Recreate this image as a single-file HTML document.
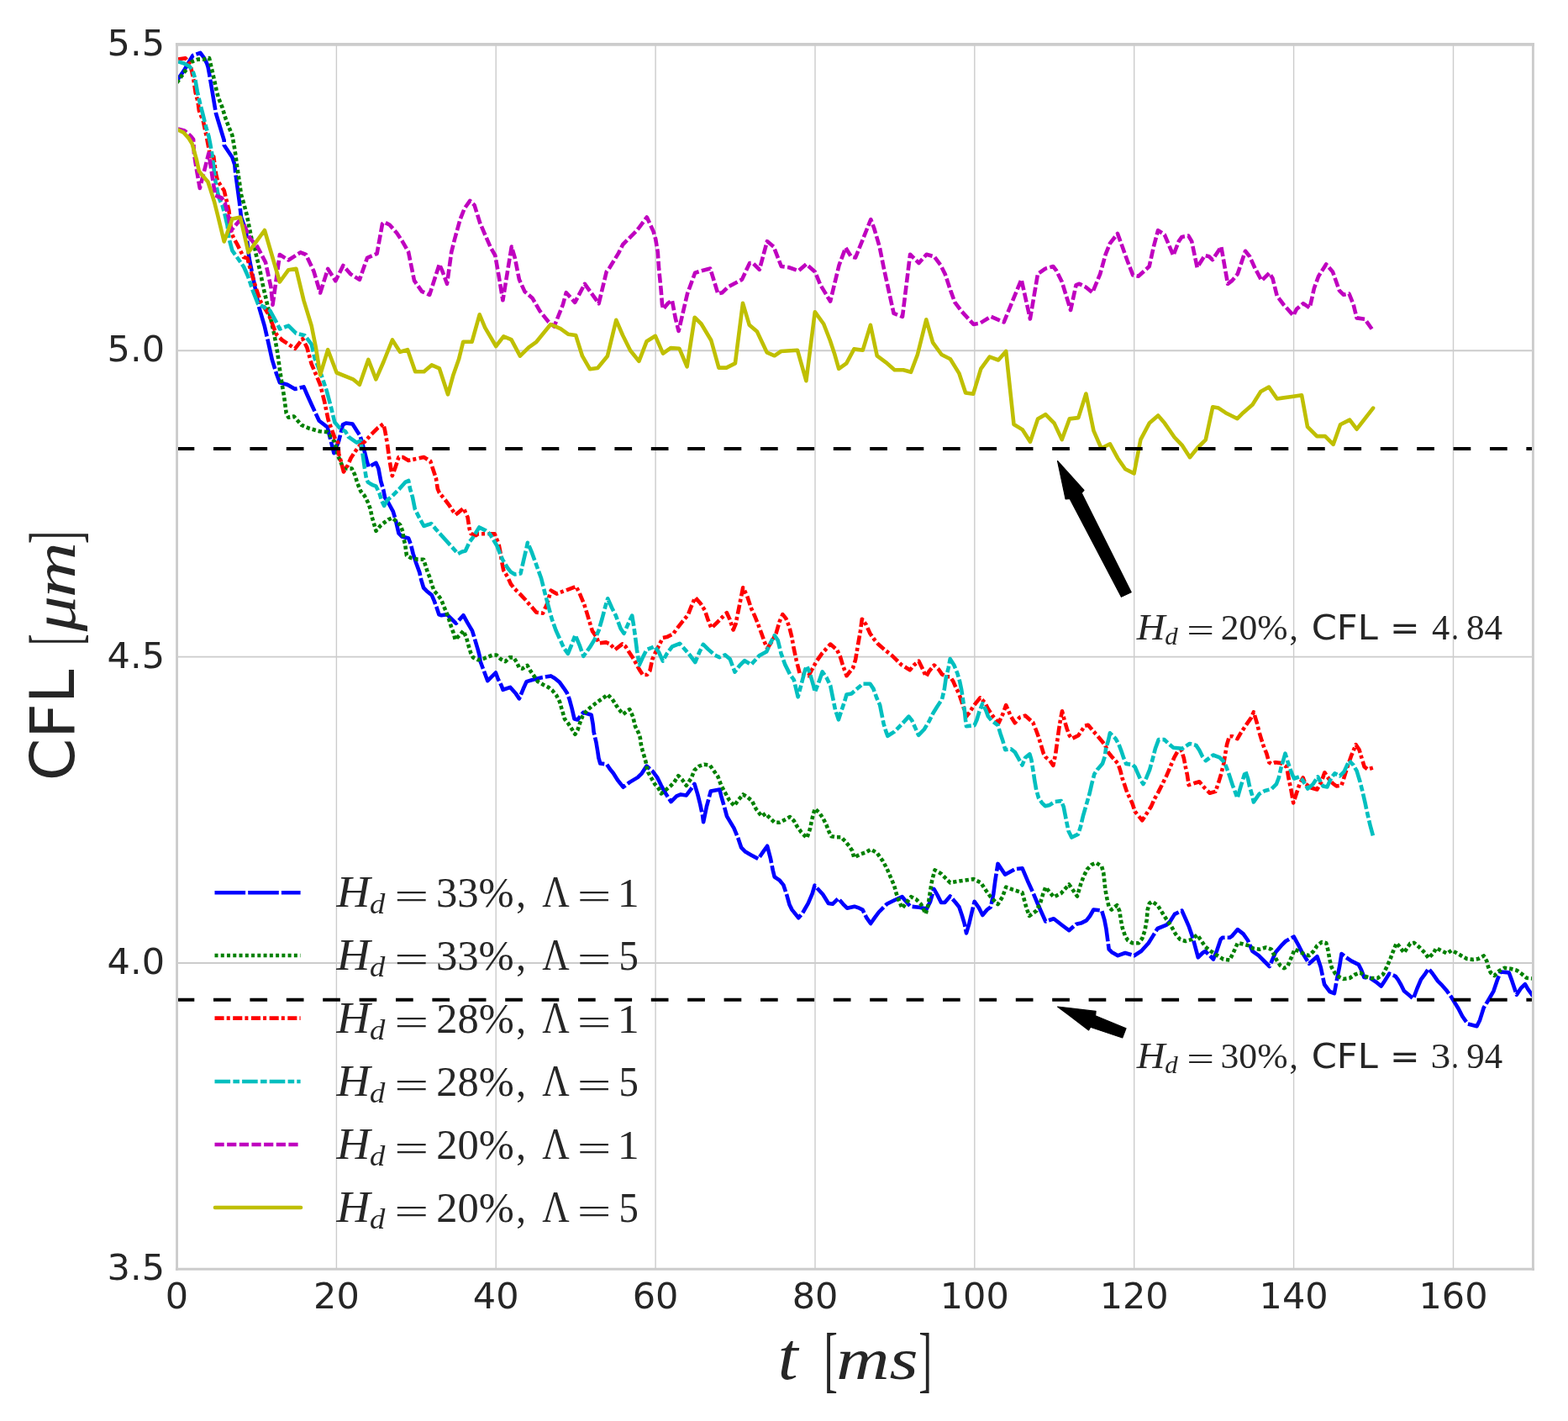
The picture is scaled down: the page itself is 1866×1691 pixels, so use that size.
<!DOCTYPE html>
<html><head><meta charset="utf-8"><title>CFL vs t</title>
<style>
html,body{margin:0;padding:0;background:#fff;}
svg{display:block;}
.tk{font-family:"DejaVu Sans","Liberation Sans",sans-serif;font-size:43px;fill:#262626;}
.mi{font-family:"Liberation Serif","DejaVu Serif",serif;font-style:italic;fill:#262626;}
.mr{font-family:"Liberation Serif","DejaVu Serif",serif;fill:#262626;}
.ds{font-family:"DejaVu Sans","Liberation Sans",sans-serif;fill:#262626;}
</style></head>
<body>
<svg width="1866" height="1691" viewBox="0 0 1866 1691">
<rect x="0" y="0" width="1866" height="1691" fill="#fff"/>
<!-- grid -->
<g stroke="#cccccc" fill="none">
<g stroke-width="1.4">
<line x1="400.4" y1="52.9" x2="400.4" y2="1510.3"/>
<line x1="590.2" y1="52.9" x2="590.2" y2="1510.3"/>
<line x1="780.1" y1="52.9" x2="780.1" y2="1510.3"/>
<line x1="970.0" y1="52.9" x2="970.0" y2="1510.3"/>
<line x1="1159.8" y1="52.9" x2="1159.8" y2="1510.3"/>
<line x1="1349.7" y1="52.9" x2="1349.7" y2="1510.3"/>
<line x1="1539.6" y1="52.9" x2="1539.6" y2="1510.3"/>
<line x1="1729.5" y1="52.9" x2="1729.5" y2="1510.3"/>
</g>
<g stroke-width="1.9">
<line x1="210.5" y1="417.25" x2="1824.4" y2="417.25"/>
<line x1="210.5" y1="781.6" x2="1824.4" y2="781.6"/>
<line x1="210.5" y1="1145.95" x2="1824.4" y2="1145.95"/>
</g>
</g>
<!-- CURVES -->
<defs><clipPath id="ax"><rect x="210.5" y="52.9" width="1613.9" height="1457.4"/></clipPath></defs>
<g fill="none" stroke-width="4.6" stroke-linejoin="round" clip-path="url(#ax)">
<path stroke="#0000ff" stroke-linecap="butt" stroke-dasharray="36.7 3.1" d="M210.5 96.1 L219.5 83.0 L229.5 66.0 L238.4 62.8 L242.6 68.5 L246.2 75.5 L247.6 79.8 L249.4 89.7 L257.0 135.0 L266.7 167.0 L266.7 172.8 L276.4 187.3 L279.3 195.9 L280.2 205.6 L285.0 241.3 L287.0 258.6 L292.8 275.0 L296.5 306.9 L301.7 332.9 L306.9 358.9 L308.2 365.4 L314.7 387.6 L318.6 404.5 L323.8 427.9 L329.0 444.8 L332.9 455.2 L342.0 457.8 L351.1 463.0 L361.5 460.4 L365.4 469.5 L370.7 481.2 L379.8 500.7 L389.6 508.3 L397.4 539.2 L403.2 524.7 L408.0 505.4 L411.8 503.5 L419.5 504.5 L424.4 512.2 L428.2 518.0 L430.2 523.8 L434.0 538.2 L436.9 549.8 L438.8 555.6 L447.5 550.8 L450.4 557.5 L453.3 573.0 L456.2 582.6 L458.1 592.2 L462.0 598.0 L467.8 608.6 L470.7 618.3 L474.5 634.7 L478.4 638.6 L486.1 640.5 L489.0 648.2 L491.6 658.9 L495.4 670.5 L499.3 681.1 L501.2 689.8 L504.1 699.5 L508.9 704.3 L513.8 708.1 L516.7 714.9 L519.5 722.6 L522.4 731.3 L525.3 732.2 L532.1 731.3 L537.9 737.1 L542.7 741.9 L551.4 732.2 L556.2 740.9 L562.0 750.6 L564.9 760.2 L568.7 772.8 L570.7 780.5 L571.6 787.0 L574.5 794.7 L580.3 810.2 L589.9 800.5 L592.8 808.2 L596.7 815.9 L598.6 820.8 L607.3 817.9 L614.0 825.6 L617.9 831.4 L622.7 819.8 L626.6 811.1 L636.2 808.2 L644.9 806.3 L655.5 804.4 L660.3 807.3 L666.1 812.1 L670.9 818.8 L674.8 824.6 L677.7 832.3 L680.6 843.0 L683.5 855.5 L687.3 856.5 L694.1 847.8 L703.7 850.7 L704.7 856.5 L705.7 862.2 L706.6 870.9 L709.5 883.5 L711.4 895.0 L712.4 901.8 L714.3 908.5 L722.1 909.5 L725.9 915.3 L729.8 920.0 L734.8 928.0 L741.6 936.7 L749.3 930.9 L758.9 925.1 L763.8 920.3 L769.5 911.6 L776.3 917.4 L782.1 925.1 L786.9 934.8 L791.7 943.5 L798.5 954.1 L805.2 947.3 L810.1 945.4 L816.8 946.4 L822.6 938.6 L826.5 932.9 L830.3 945.4 L833.2 957.0 L836.1 970.5 L837.1 978.2 L840.9 959.9 L845.8 941.5 L856.4 939.6 L858.3 947.3 L862.2 960.8 L865.0 971.4 L873.5 985.6 L878.3 997.2 L882.2 1008.7 L887.0 1013.6 L893.8 1017.4 L902.4 1022.2 L908.2 1013.6 L913.1 1006.8 L916.9 1021.3 L919.8 1035.7 L921.7 1043.5 L927.5 1047.3 L932.3 1053.1 L936.2 1064.7 L939.6 1076.8 L942.5 1082.6 L950.3 1092.2 L955.1 1086.5 L961.8 1074.9 L966.7 1063.3 L969.5 1053.7 L979.2 1064.3 L985.9 1074.9 L990.8 1075.8 L997.5 1069.1 L1003.3 1075.8 L1008.1 1080.7 L1016.8 1078.7 L1022.6 1080.7 L1026.5 1082.6 L1031.3 1092.2 L1036.1 1099.0 L1040.9 1092.2 L1045.8 1085.5 L1055.4 1075.8 L1065.0 1071.0 L1073.7 1067.2 L1077.6 1072.0 L1083.4 1078.7 L1094.0 1079.7 L1102.7 1081.6 L1107.1 1072.9 L1111.4 1057.9 L1115.7 1065.4 L1120.0 1074.0 L1124.3 1074.0 L1130.7 1066.5 L1137.2 1074.0 L1141.4 1079.3 L1144.7 1089.0 L1147.9 1099.7 L1150.0 1110.4 L1153.2 1099.7 L1156.5 1085.7 L1159.7 1072.9 L1165.0 1080.4 L1169.3 1089.0 L1174.7 1082.5 L1179.0 1079.3 L1182.2 1064.3 L1184.3 1048.2 L1187.5 1027.9 L1196.1 1040.7 L1207.9 1034.3 L1216.5 1033.2 L1222.9 1048.2 L1229.3 1062.2 L1234.7 1075.0 L1239.0 1084.7 L1244.3 1096.5 L1254.0 1093.2 L1263.6 1100.7 L1272.2 1107.2 L1280.8 1099.7 L1286.4 1098.6 L1292.9 1095.4 L1297.1 1090.0 L1301.4 1082.5 L1311.1 1083.6 L1314.3 1094.3 L1316.4 1105.0 L1319.7 1129.7 L1322.9 1132.9 L1330.4 1137.2 L1339.0 1134.0 L1349.7 1137.2 L1358.2 1131.8 L1366.8 1122.2 L1372.2 1113.6 L1377.5 1105.0 L1388.3 1100.7 L1392.5 1096.5 L1397.9 1087.9 L1406.5 1083.6 L1410.8 1093.2 L1415.0 1102.9 L1418.3 1112.5 L1421.5 1123.3 L1425.8 1139.3 L1431.1 1134.0 L1434.3 1131.8 L1444.0 1141.5 L1448.3 1130.8 L1452.6 1117.9 L1454.7 1115.8 L1463.3 1115.8 L1466.5 1113.6 L1472.9 1106.1 L1479.6 1111.4 L1485.0 1119.0 L1490.4 1131.8 L1497.9 1137.2 L1503.2 1142.5 L1510.7 1150.0 L1518.2 1132.9 L1525.7 1124.3 L1530.0 1120.0 L1539.7 1114.7 L1545.0 1124.3 L1549.3 1132.9 L1557.9 1146.8 L1567.5 1138.2 L1569.7 1144.7 L1571.8 1151.1 L1576.1 1171.5 L1582.5 1180.0 L1587.9 1182.2 L1591.1 1165.0 L1594.3 1149.0 L1596.5 1135.0 L1601.8 1139.3 L1608.3 1143.6 L1616.8 1147.9 L1620.1 1154.3 L1623.3 1162.9 L1630.8 1164.0 L1637.2 1168.3 L1643.6 1173.6 L1647.9 1167.2 L1653.3 1158.6 L1660.8 1161.8 L1663.6 1165.6 L1667.3 1172.0 L1670.9 1179.3 L1676.4 1183.8 L1681.9 1188.4 L1686.4 1176.5 L1691.0 1165.6 L1696.4 1158.3 L1700.1 1152.8 L1704.6 1158.3 L1711.0 1167.4 L1716.5 1172.9 L1722.0 1179.3 L1726.5 1185.6 L1731.1 1192.9 L1735.6 1200.2 L1740.2 1209.3 L1746.6 1218.4 L1757.5 1221.2 L1761.1 1213.9 L1765.7 1199.3 L1771.2 1190.2 L1777.5 1179.3 L1782.1 1165.6 L1785.7 1156.5 L1795.7 1157.4 L1799.4 1167.4 L1804.9 1183.8 L1810.3 1175.6 L1814.9 1171.1 L1818.5 1177.4 L1824.4 1185.5"/>
<path stroke="#008000" stroke-linecap="butt" stroke-dasharray="4.3 3.0" d="M210.5 98.3 L228.4 73.4 L235.5 70.6 L242.6 70.6 L249.0 69.0 L251.1 78.4 L253.3 87.6 L254.7 94.0 L257.5 106.8 L259.6 115.3 L261.8 121.0 L264.6 128.1 L266.7 135.2 L268.9 142.3 L272.5 151.6 L276.4 161.2 L278.3 171.8 L280.2 183.4 L282.1 197.9 L285.0 217.1 L287.0 231.6 L289.9 241.3 L293.7 255.7 L296.6 270.2 L299.5 284.6 L301.8 287.9 L305.0 304.0 L309.5 322.5 L313.4 342.0 L322.5 381.1 L326.4 398.0 L330.3 420.1 L332.9 439.6 L335.5 456.5 L338.1 472.1 L340.7 491.6 L343.3 496.8 L349.8 495.5 L358.9 505.9 L368.0 509.8 L380.0 513.2 L389.6 514.1 L398.3 525.7 L402.2 542.1 L407.0 553.7 L411.8 557.5 L418.6 557.5 L422.4 565.2 L425.3 574.9 L429.2 584.5 L434.0 590.3 L437.9 598.0 L440.8 605.8 L442.7 615.4 L445.6 625.0 L447.5 631.8 L453.3 625.0 L462.0 618.3 L466.8 616.4 L471.6 620.2 L476.5 625.0 L479.4 632.8 L480.3 640.5 L482.2 648.2 L483.9 660.9 L488.7 663.8 L497.4 665.7 L504.1 665.7 L508.9 681.1 L511.8 687.9 L513.8 695.6 L516.7 703.3 L520.5 707.2 L525.3 713.9 L528.2 721.6 L531.1 728.4 L534.0 736.1 L536.9 745.7 L539.8 753.5 L541.7 761.2 L547.5 755.4 L551.4 750.6 L555.2 759.3 L557.2 767.0 L560.1 776.6 L563.0 782.4 L568.7 785.3 L576.5 783.4 L586.1 779.5 L590.9 779.5 L595.8 784.3 L601.5 787.2 L606.4 782.4 L611.2 782.4 L615.0 788.2 L617.9 794.7 L621.7 795.7 L627.5 791.8 L631.4 798.6 L636.2 805.3 L640.1 811.1 L646.8 815.0 L652.6 817.9 L657.4 821.7 L662.2 827.5 L666.1 835.2 L668.0 842.0 L670.0 848.7 L671.9 855.5 L675.8 860.3 L679.6 866.1 L684.4 873.8 L687.3 869.0 L690.2 860.3 L693.1 852.6 L698.9 844.9 L704.7 840.1 L712.4 834.3 L718.2 830.4 L723.0 826.6 L728.8 832.3 L735.8 843.2 L741.6 849.9 L749.3 844.1 L753.2 852.8 L756.0 864.4 L759.9 872.1 L761.8 877.9 L762.8 885.6 L764.7 893.3 L766.7 900.1 L768.6 906.8 L769.5 912.6 L771.5 919.4 L775.3 926.1 L779.2 932.9 L784.0 938.6 L786.9 944.4 L791.7 940.6 L797.5 935.8 L802.3 930.9 L807.2 923.2 L812.0 928.0 L816.8 934.8 L822.6 926.1 L826.5 916.5 L832.2 911.6 L838.0 909.7 L844.8 910.7 L849.6 917.4 L854.4 924.2 L858.3 934.8 L863.1 943.5 L867.9 952.2 L873.7 958.9 L878.5 952.2 L884.3 945.4 L889.2 948.3 L894.9 953.1 L899.8 962.8 L906.5 971.4 L911.1 968.2 L915.9 973.1 L921.7 978.8 L927.5 978.8 L933.3 975.9 L940.1 972.1 L944.9 976.9 L948.7 983.7 L953.6 990.4 L960.3 997.2 L964.2 985.6 L966.1 975.9 L968.0 968.2 L970.0 962.4 L975.8 968.2 L979.6 974.0 L983.5 981.7 L986.4 989.5 L989.3 995.2 L995.0 996.2 L1000.8 996.2 L1005.7 1001.0 L1010.5 1006.8 L1014.3 1012.6 L1016.3 1020.3 L1024.0 1016.5 L1029.8 1014.5 L1036.5 1010.7 L1043.8 1015.1 L1050.6 1024.7 L1055.4 1033.4 L1058.3 1040.2 L1061.2 1046.9 L1064.1 1053.7 L1067.0 1064.3 L1069.9 1072.0 L1073.7 1080.7 L1080.5 1072.0 L1084.3 1067.2 L1090.1 1070.1 L1095.9 1075.8 L1101.7 1087.4 L1104.6 1076.8 L1107.5 1057.5 L1109.3 1047.2 L1112.5 1035.4 L1120.0 1039.7 L1130.7 1050.4 L1143.6 1048.2 L1158.6 1046.1 L1167.2 1050.4 L1173.6 1060.0 L1179.0 1067.5 L1187.5 1076.1 L1192.9 1067.5 L1197.2 1055.7 L1205.8 1058.9 L1216.5 1062.2 L1218.6 1069.7 L1221.8 1081.5 L1225.0 1090.0 L1233.6 1083.6 L1237.9 1075.0 L1241.1 1064.3 L1244.3 1055.7 L1254.0 1067.5 L1262.6 1063.2 L1272.2 1052.5 L1281.9 1066.5 L1286.4 1051.4 L1289.6 1042.9 L1293.9 1034.3 L1299.3 1028.9 L1304.7 1026.8 L1311.1 1031.1 L1313.2 1038.6 L1314.3 1048.2 L1315.4 1058.9 L1317.5 1069.7 L1319.7 1079.3 L1322.9 1082.5 L1329.3 1077.2 L1332.5 1084.7 L1333.6 1093.2 L1335.7 1104.0 L1338.9 1113.6 L1342.2 1119.0 L1347.5 1122.2 L1355.0 1122.2 L1359.3 1116.8 L1362.5 1107.2 L1364.7 1094.3 L1365.7 1082.5 L1367.9 1075.0 L1371.1 1072.9 L1377.5 1077.2 L1382.9 1085.7 L1388.3 1094.3 L1393.6 1101.8 L1399.0 1111.5 L1404.3 1117.9 L1410.8 1120.0 L1418.3 1117.9 L1424.7 1112.5 L1430.0 1120.0 L1434.3 1126.5 L1440.8 1131.8 L1447.2 1136.1 L1455.8 1141.5 L1463.3 1142.5 L1467.6 1134.0 L1472.9 1122.2 L1478.6 1123.2 L1486.1 1125.4 L1491.4 1128.6 L1498.9 1129.7 L1506.4 1127.5 L1512.9 1129.7 L1516.1 1136.1 L1519.3 1142.5 L1523.6 1149.0 L1527.9 1152.2 L1532.2 1150.0 L1535.4 1142.5 L1538.6 1135.0 L1540.7 1129.7 L1545.0 1131.8 L1551.5 1135.0 L1557.9 1137.2 L1563.2 1131.8 L1567.5 1125.4 L1572.9 1121.1 L1578.2 1122.2 L1580.4 1130.7 L1582.5 1142.5 L1584.7 1151.1 L1589.0 1158.6 L1594.3 1162.9 L1598.6 1165.0 L1606.1 1164.0 L1612.5 1159.7 L1619.0 1157.5 L1624.3 1161.8 L1631.8 1164.0 L1639.3 1164.0 L1645.8 1159.7 L1650.1 1151.1 L1654.4 1141.5 L1657.6 1132.9 L1661.9 1122.2 L1665.5 1126.4 L1670.9 1133.7 L1678.2 1122.8 L1682.8 1121.9 L1689.2 1127.3 L1695.5 1133.7 L1700.1 1140.1 L1705.6 1134.6 L1709.2 1128.2 L1716.5 1131.9 L1722.0 1134.6 L1727.4 1131.0 L1732.9 1133.7 L1739.3 1137.4 L1745.6 1141.0 L1752.9 1141.9 L1759.3 1141.0 L1765.7 1137.4 L1769.3 1143.7 L1771.2 1151.0 L1773.9 1157.4 L1778.4 1161.0 L1783.9 1155.6 L1790.3 1151.9 L1797.6 1152.8 L1804.9 1154.7 L1811.2 1159.2 L1816.7 1163.8 L1824.4 1164.5"/>
<path stroke="#ff0000" stroke-linecap="butt" stroke-dasharray="11.1 3.1 4.0 3.5" d="M212.1 70.6 L220.6 69.2 L226.3 77.0 L228.4 85.5 L230.5 95.4 L232.7 110.3 L235.5 121.0 L236.9 131.6 L241.9 144.4 L243.6 152.5 L245.5 161.2 L250.3 186.3 L254.2 186.3 L257.1 207.5 L259.0 215.2 L262.9 221.0 L266.7 226.8 L268.6 234.5 L272.5 250.9 L275.4 276.9 L278.3 283.7 L282.1 290.4 L290.0 306.1 L294.3 307.2 L300.4 329.0 L305.6 345.9 L310.8 360.2 L319.9 374.6 L329.0 398.0 L335.5 404.5 L351.1 414.9 L360.2 403.2 L365.4 413.6 L370.7 433.1 L381.1 457.8 L386.3 478.6 L390.6 499.6 L398.3 520.9 L402.2 526.7 L403.2 540.2 L406.0 549.8 L408.9 561.4 L413.8 553.7 L417.6 545.0 L423.4 536.3 L429.2 528.6 L434.0 525.7 L441.7 517.0 L449.5 509.3 L456.2 504.5 L458.1 512.2 L461.0 528.6 L463.0 544.0 L464.9 555.6 L466.8 566.2 L470.7 555.6 L474.5 544.0 L479.4 544.0 L486.1 547.9 L495.8 546.0 L504.4 544.0 L512.2 548.8 L515.0 557.5 L518.9 569.1 L520.8 581.6 L522.8 586.5 L528.5 593.2 L534.3 600.9 L542.1 612.5 L545.9 609.6 L551.7 604.8 L556.5 615.4 L558.7 629.5 L560.6 635.2 L566.4 637.2 L569.3 635.2 L575.1 635.2 L581.8 635.2 L588.6 635.2 L590.5 640.1 L593.4 646.8 L595.3 656.5 L597.3 669.0 L599.2 678.6 L604.0 686.4 L607.9 695.0 L611.7 699.9 L619.5 707.6 L625.8 714.3 L638.3 728.7 L646.0 729.7 L650.9 719.1 L655.7 702.7 L662.4 706.6 L670.2 703.7 L685.6 697.9 L689.5 705.6 L695.2 719.1 L699.1 731.6 L702.0 741.3 L704.9 750.9 L709.7 757.7 L712.6 765.4 L721.3 764.4 L726.1 766.4 L731.9 773.1 L740.6 766.4 L744.4 769.3 L749.3 777.0 L755.0 785.7 L758.9 793.4 L761.8 798.2 L765.0 803.0 L770.0 803.0 L773.4 798.2 L776.3 784.7 L780.0 776.5 L783.9 768.7 L788.7 759.1 L793.5 758.1 L801.2 754.3 L806.0 747.5 L812.8 738.8 L818.6 732.1 L822.4 722.4 L827.3 710.9 L834.0 718.6 L838.8 726.3 L842.7 737.9 L846.6 747.5 L853.3 740.8 L860.1 734.0 L864.9 729.2 L868.4 736.9 L872.6 749.5 L875.5 742.7 L878.4 728.2 L881.3 713.8 L884.2 699.3 L889.0 708.9 L893.8 723.4 L898.6 734.0 L902.5 743.7 L906.4 754.3 L910.2 764.9 L913.1 771.6 L918.9 763.0 L923.7 753.3 L927.6 739.8 L931.4 731.1 L935.3 735.9 L939.2 745.6 L942.1 757.2 L944.9 772.6 L947.8 786.1 L951.7 801.5 L962.2 804.2 L967.0 795.5 L971.8 786.8 L978.6 777.2 L988.2 766.6 L996.0 773.3 L999.8 781.0 L1002.7 790.7 L1007.5 804.2 L1015.2 794.5 L1018.1 784.9 L1021.0 767.5 L1023.9 751.1 L1025.8 736.7 L1030.7 743.4 L1035.5 754.0 L1040.3 760.8 L1045.1 766.6 L1052.9 773.3 L1061.5 780.1 L1066.4 784.9 L1072.2 790.7 L1082.8 797.4 L1087.6 791.6 L1093.4 786.8 L1097.2 794.5 L1102.1 805.1 L1105.9 798.4 L1111.7 791.6 L1117.2 796.7 L1121.0 802.4 L1126.8 805.3 L1130.7 805.3 L1134.5 811.1 L1137.4 817.9 L1141.3 825.6 L1144.2 834.3 L1147.1 843.0 L1150.0 852.6 L1153.8 847.8 L1158.6 840.1 L1166.4 830.4 L1172.2 836.2 L1176.0 843.9 L1181.8 852.6 L1188.5 860.3 L1193.4 849.7 L1197.2 839.1 L1203.0 852.6 L1207.8 860.3 L1213.6 853.6 L1220.0 851.6 L1229.3 859.8 L1233.2 869.5 L1236.0 877.2 L1238.9 886.8 L1241.8 896.5 L1244.7 901.3 L1249.5 905.1 L1253.4 910.9 L1256.3 896.5 L1258.2 882.0 L1260.2 867.5 L1262.1 855.9 L1264.0 846.3 L1266.9 857.9 L1269.8 867.5 L1272.7 875.2 L1275.6 879.1 L1283.3 875.2 L1287.2 869.5 L1291.0 863.7 L1294.9 862.7 L1299.7 868.5 L1306.5 876.2 L1312.2 883.0 L1315.1 886.8 L1319.0 895.5 L1322.9 900.3 L1326.7 904.2 L1330.6 909.0 L1333.5 917.7 L1335.4 925.4 L1338.3 934.1 L1341.2 942.8 L1345.0 950.5 L1347.9 957.2 L1350.6 965.6 L1354.4 970.4 L1359.3 976.2 L1365.0 967.5 L1369.9 959.8 L1373.7 951.1 L1378.6 942.4 L1383.4 932.8 L1388.2 923.2 L1392.5 913.0 L1397.4 901.4 L1401.2 894.6 L1406.0 892.7 L1408.9 902.3 L1410.9 913.0 L1412.8 921.6 L1414.7 934.2 L1420.5 932.2 L1427.3 930.3 L1433.1 937.1 L1439.8 943.8 L1446.6 941.9 L1450.4 930.3 L1453.3 920.7 L1456.2 909.1 L1458.1 897.5 L1460.1 885.9 L1463.0 876.3 L1466.8 876.3 L1472.6 879.2 L1476.5 872.4 L1480.3 866.7 L1484.2 860.9 L1489.0 854.1 L1491.9 847.4 L1495.7 859.9 L1498.6 871.5 L1501.5 881.1 L1504.4 889.8 L1507.3 896.6 L1510.2 907.2 L1513.1 909.1 L1517.9 907.2 L1524.7 908.1 L1531.4 913.0 L1533.4 925.5 L1536.3 939.0 L1539.2 955.4 L1543.0 943.8 L1546.9 932.2 L1550.7 925.5 L1553.3 932.5 L1560.3 937.5 L1567.3 939.5 L1572.4 930.5 L1576.4 919.4 L1582.4 928.4 L1586.4 932.5 L1590.5 935.5 L1596.5 934.5 L1599.5 925.4 L1603.5 912.4 L1608.5 898.3 L1613.6 886.2 L1617.6 892.3 L1620.6 902.3 L1623.6 912.4 L1627.6 915.4 L1634.2 913.5"/>
<path stroke="#00bfbf" stroke-linecap="butt" stroke-dasharray="18.6 3.3 7.6 3.1" d="M212.1 73.4 L219.2 75.5 L225.6 79.1 L229.1 83.4 L232.0 92.6 L234.8 108.9 L236.9 118.1 L238.4 124.5 L241.2 135.2 L245.5 152.5 L248.4 162.2 L250.3 171.8 L252.3 183.4 L254.2 197.9 L256.1 214.3 L259.0 228.7 L260.9 236.4 L264.8 245.1 L267.7 255.7 L270.6 268.3 L272.5 283.7 L276.4 298.2 L290.0 317.3 L295.2 329.0 L300.4 344.6 L306.9 361.5 L321.2 369.4 L329.0 383.7 L332.9 391.5 L343.3 387.6 L352.4 396.7 L362.8 399.3 L370.7 409.7 L374.6 426.6 L382.4 446.1 L388.9 465.6 L394.1 485.1 L398.3 502.5 L405.1 510.3 L410.9 513.2 L414.7 519.9 L424.4 526.7 L429.2 524.7 L430.2 530.5 L432.1 544.0 L434.0 557.5 L435.9 569.1 L437.9 573.9 L442.7 576.8 L447.5 578.7 L451.4 586.5 L454.3 596.1 L457.2 601.9 L461.0 595.1 L466.8 590.3 L475.5 581.6 L482.2 573.9 L486.1 572.0 L488.0 581.6 L490.9 591.3 L493.8 605.8 L498.6 615.4 L504.4 626.0 L513.1 623.1 L518.9 629.9 L525.7 637.6 L536.3 649.2 L545.0 659.0 L550.0 656.5 L553.9 655.5 L558.7 644.9 L562.5 640.1 L570.3 627.5 L578.0 631.4 L582.8 635.2 L587.6 643.0 L591.5 649.7 L595.3 659.4 L598.2 666.1 L604.0 675.8 L607.9 680.6 L612.7 683.5 L619.5 682.5 L623.3 666.1 L626.2 653.6 L627.9 645.8 L632.5 656.4 L644.1 688.2 L648.9 707.5 L652.8 722.0 L656.7 736.5 L661.5 750.0 L666.3 760.6 L671.1 771.2 L675.9 777.9 L679.8 768.3 L684.6 755.8 L689.5 767.3 L694.3 780.8 L702.0 770.2 L707.8 760.6 L712.6 750.0 L716.5 736.5 L720.3 722.0 L723.2 712.3 L728.0 723.0 L732.9 732.6 L738.6 748.0 L742.5 753.8 L750.2 736.5 L752.2 732.6 L754.1 744.2 L756.0 757.7 L757.9 773.1 L760.8 791.4 L764.7 782.8 L769.5 773.1 L779.2 769.3 L784.0 776.0 L788.8 786.6 L793.6 777.9 L800.0 769.3 L808.9 765.8 L815.7 773.6 L821.5 780.3 L827.3 788.0 L832.1 776.5 L836.9 766.8 L842.7 772.6 L850.4 779.4 L856.2 782.2 L863.0 779.4 L868.7 784.2 L874.5 799.6 L880.3 791.9 L886.1 786.1 L893.8 790.9 L903.5 780.3 L912.2 775.5 L917.0 764.9 L921.8 756.2 L925.7 762.0 L929.5 777.4 L934.3 790.9 L940.1 802.5 L944.8 809.0 L949.6 829.3 L954.5 810.9 L958.3 796.5 L960.3 792.6 L964.1 802.2 L968.0 815.8 L969.9 823.5 L974.7 810.9 L978.6 799.4 L983.4 806.1 L988.2 815.8 L991.1 830.2 L994.0 844.7 L997.9 856.3 L1001.7 844.7 L1005.6 833.1 L1007.5 826.4 L1013.3 825.4 L1020.1 819.6 L1026.8 813.8 L1035.5 813.8 L1039.4 819.6 L1043.2 830.2 L1047.1 838.9 L1051.6 861.3 L1054.5 870.9 L1056.4 875.8 L1064.1 870.9 L1072.8 862.2 L1081.5 852.6 L1085.3 857.4 L1089.2 866.1 L1093.1 874.8 L1099.8 868.0 L1105.6 858.4 L1110.4 848.7 L1115.2 841.0 L1121.0 832.3 L1123.9 819.8 L1125.8 806.3 L1128.7 794.7 L1130.7 784.1 L1135.5 791.8 L1139.4 801.5 L1142.2 811.1 L1144.2 820.8 L1146.1 833.3 L1148.0 846.8 L1149.0 856.5 L1150.0 864.2 L1159.6 863.2 L1162.5 856.5 L1165.4 846.8 L1169.3 837.2 L1173.1 844.9 L1176.0 852.6 L1179.9 857.4 L1187.6 863.2 L1190.5 872.9 L1193.4 881.5 L1196.3 892.2 L1203.0 891.2 L1207.8 895.0 L1211.7 901.8 L1216.5 910.5 L1220.0 901.8 L1225.4 897.4 L1227.4 904.2 L1229.3 915.8 L1231.2 928.3 L1233.2 939.9 L1236.0 949.5 L1239.9 955.3 L1243.8 959.2 L1249.3 957.9 L1255.1 954.0 L1262.8 953.1 L1265.7 959.8 L1267.6 969.5 L1269.5 979.1 L1271.5 988.7 L1275.3 996.5 L1283.1 992.6 L1285.9 983.9 L1288.8 971.4 L1292.7 957.9 L1296.6 944.4 L1299.5 931.8 L1302.3 921.2 L1306.2 915.4 L1312.0 908.7 L1314.9 900.0 L1316.1 890.7 L1319.0 881.0 L1320.9 872.3 L1327.7 879.1 L1331.5 885.9 L1334.4 893.6 L1337.3 902.2 L1340.2 909.0 L1347.9 910.0 L1350.8 912.9 L1353.7 919.6 L1357.6 928.3 L1360.5 933.1 L1364.3 925.4 L1368.2 915.8 L1372.0 902.2 L1374.9 890.7 L1378.8 880.1 L1385.6 880.1 L1389.6 884.0 L1396.4 889.8 L1407.0 890.8 L1415.7 885.0 L1423.4 886.9 L1427.3 892.7 L1431.1 900.4 L1435.0 905.2 L1438.8 902.3 L1443.7 898.5 L1451.4 901.4 L1456.2 906.2 L1459.1 912.0 L1463.0 922.6 L1466.8 934.2 L1472.6 949.6 L1476.5 936.1 L1480.3 923.6 L1482.2 917.8 L1485.1 926.5 L1487.1 936.1 L1490.0 945.8 L1491.9 954.4 L1498.6 944.8 L1505.4 940.9 L1513.1 939.0 L1518.9 933.2 L1521.8 925.5 L1524.7 913.0 L1527.6 903.3 L1529.5 896.6 L1532.4 906.2 L1535.3 914.9 L1538.2 922.6 L1540.1 926.5 L1545.9 924.5 L1550.3 928.4 L1556.3 938.5 L1562.3 933.5 L1568.3 924.4 L1574.4 935.5 L1579.4 936.5 L1584.4 925.4 L1588.4 920.4 L1594.5 923.4 L1599.5 918.4 L1605.5 905.3 L1610.6 910.4 L1614.6 917.4 L1618.6 930.5 L1621.6 942.5 L1624.6 955.6 L1627.6 969.6 L1630.7 982.7 L1634.5 996.5"/>
<path stroke="#bf00bf" stroke-linecap="butt" stroke-dasharray="11.2 3.4" d="M211.8 153.5 L219.5 155.4 L227.2 162.2 L230.1 166.0 L231.0 183.4 L233.9 201.7 L237.8 223.9 L248.4 182.4 L256.1 232.6 L263.8 235.5 L267.7 241.3 L272.5 260.5 L274.4 275.0 L285.0 262.5 L290.0 266.5 L297.5 283.6 L306.1 293.3 L316.0 312.1 L322.5 342.0 L324.5 362.8 L332.9 303.0 L343.3 309.5 L357.6 300.4 L364.1 303.0 L373.3 322.5 L381.1 348.5 L390.2 319.9 L399.3 334.2 L408.4 316.0 L417.5 326.4 L427.9 332.9 L437.0 306.9 L448.6 301.8 L455.0 266.5 L457.2 264.3 L463.6 267.5 L472.2 277.2 L478.6 286.8 L486.1 300.0 L493.0 333.9 L502.1 346.9 L511.2 350.8 L522.9 314.4 L526.8 323.5 L532.0 337.8 L537.2 300.1 L541.1 284.5 L547.6 261.1 L552.8 248.0 L559.3 238.9 L564.6 244.1 L571.1 265.0 L578.9 283.2 L584.1 294.9 L589.3 304.0 L593.2 326.1 L598.4 357.3 L608.8 293.6 L612.7 306.6 L617.9 332.6 L624.4 346.9 L633.5 354.7 L642.6 370.3 L653.0 383.3 L659.5 388.5 L669.9 362.5 L673.8 348.2 L684.2 359.9 L695.9 337.8 L712.6 361.2 L721.7 323.5 L725.6 318.3 L736.0 301.4 L741.2 291.0 L747.7 284.5 L758.1 274.1 L769.8 258.5 L777.6 275.4 L780.2 284.5 L782.8 300.1 L784.1 319.6 L786.7 345.6 L788.0 362.5 L789.3 367.7 L794.6 361.2 L799.8 357.3 L803.7 378.1 L807.6 394.0 L818.0 349.5 L827.1 324.8 L834.9 322.2 L845.3 319.6 L854.4 349.5 L859.6 348.2 L866.1 341.7 L883.0 332.6 L892.1 313.1 L896.0 313.1 L903.8 320.9 L912.9 287.1 L920.7 293.6 L929.8 317.0 L938.9 318.3 L950.4 322.2 L959.5 314.4 L969.9 323.5 L976.4 339.1 L988.1 358.6 L998.5 315.7 L1006.3 294.9 L1012.8 305.3 L1018.0 306.6 L1025.9 287.1 L1036.3 261.1 L1040.2 271.5 L1046.7 293.6 L1051.9 319.6 L1058.4 349.5 L1063.6 372.9 L1074.0 376.8 L1081.8 313.1 L1083.1 302.7 L1093.5 313.1 L1102.6 302.7 L1111.7 305.3 L1119.5 315.7 L1124.7 326.1 L1131.2 345.6 L1136.4 359.9 L1144.2 370.3 L1158.5 385.9 L1166.3 384.6 L1179.1 376.8 L1194.7 383.3 L1206.4 354.7 L1215.5 332.6 L1225.9 379.4 L1235.0 326.1 L1244.1 319.6 L1253.3 317.0 L1257.2 322.2 L1263.7 335.2 L1268.9 352.1 L1274.1 369.0 L1280.6 339.1 L1284.5 337.8 L1292.3 341.7 L1300.1 348.2 L1309.2 326.1 L1315.7 302.7 L1320.9 289.7 L1330.0 278.0 L1335.2 292.3 L1341.7 310.5 L1348.2 327.4 L1354.7 328.7 L1367.7 317.0 L1372.9 293.6 L1378.1 274.1 L1385.9 279.3 L1396.3 304.0 L1402.8 287.1 L1406.5 281.9 L1414.3 280.6 L1418.2 287.1 L1424.7 318.3 L1433.8 304.0 L1439.0 305.3 L1442.9 309.2 L1453.3 293.6 L1461.1 337.8 L1466.3 333.9 L1472.8 326.1 L1482.0 298.8 L1487.2 305.3 L1493.7 319.6 L1501.5 333.9 L1510.6 324.8 L1514.5 331.3 L1519.7 352.1 L1527.5 362.5 L1539.2 375.5 L1543.1 367.7 L1550.9 361.2 L1558.7 366.4 L1563.9 343.0 L1569.1 328.7 L1578.2 314.4 L1586.0 323.5 L1593.8 345.6 L1599.0 350.8 L1605.5 349.5 L1610.7 362.5 L1614.6 378.4 L1624.3 379.8 L1634.1 393.7"/>
<path stroke="#bfbf00" stroke-linecap="round" d="M211.8 154.5 L218.5 157.8 L224.3 164.1 L228.6 170.9 L233.9 190.1 L236.8 203.6 L240.7 208.5 L247.4 216.2 L250.3 224.9 L255.1 240.3 L259.0 255.7 L266.7 287.5 L276.4 260.5 L286.0 258.6 L295.6 300.5 L314.9 274.0 L332.9 335.5 L343.3 321.2 L352.4 319.9 L361.5 357.6 L370.7 387.6 L375.9 413.6 L381.1 446.1 L390.2 416.2 L400.6 443.5 L420.1 451.3 L427.9 457.8 L438.3 427.9 L447.4 451.3 L456.5 430.5 L466.9 404.5 L476.0 418.8 L485.1 416.2 L494.2 442.2 L504.6 442.2 L513.7 434.4 L522.8 438.3 L533.0 469.3 L539.5 445.9 L546.0 427.6 L551.2 406.8 L561.6 406.8 L570.7 374.3 L577.2 389.9 L590.2 412.0 L599.3 400.3 L608.5 404.2 L618.9 423.7 L629.3 413.3 L638.4 406.8 L655.3 386.0 L667.0 391.2 L676.1 397.7 L685.2 399.0 L693.0 423.7 L702.1 439.3 L711.2 438.0 L722.9 423.7 L733.3 380.8 L741.1 399.0 L750.2 417.2 L760.4 429.8 L769.5 406.3 L779.9 399.8 L789.0 420.7 L798.1 414.1 L808.5 414.8 L817.6 436.3 L826.7 377.7 L834.6 385.5 L846.3 405.0 L855.4 437.6 L864.5 437.6 L874.9 432.4 L884.0 360.8 L891.8 386.8 L900.9 394.6 L912.6 419.3 L921.7 423.3 L929.5 418.0 L949.0 416.7 L959.4 453.2 L969.8 371.2 L980.2 385.5 L987.8 405.0 L993.0 420.7 L998.2 438.9 L1007.3 432.4 L1016.4 415.4 L1026.8 416.7 L1035.9 386.8 L1043.7 423.3 L1054.1 431.1 L1064.6 440.2 L1075.0 440.2 L1084.1 442.8 L1091.9 422.0 L1102.3 380.3 L1110.1 407.6 L1120.5 422.0 L1130.9 427.2 L1141.3 444.1 L1149.1 467.5 L1158.2 468.8 L1167.3 438.9 L1177.7 424.6 L1188.1 428.5 L1197.2 418.0 L1206.5 505.0 L1216.9 511.4 L1226.0 525.7 L1235.1 498.4 L1244.2 493.2 L1254.6 503.6 L1263.7 523.1 L1272.8 498.4 L1283.3 497.1 L1292.4 468.5 L1301.5 512.7 L1310.6 533.5 L1321.0 528.3 L1330.1 545.2 L1339.2 558.2 L1349.6 563.4 L1357.4 523.1 L1367.8 503.6 L1378.2 494.5 L1386.0 503.6 L1397.7 520.5 L1407.0 530.2 L1416.0 544.2 L1425.1 533.0 L1434.8 523.3 L1443.2 484.3 L1450.2 485.6 L1458.5 491.2 L1472.5 498.2 L1479.4 491.2 L1490.6 481.5 L1500.3 466.1 L1510.1 460.6 L1519.8 474.5 L1539.3 471.7 L1549.1 470.3 L1556.0 507.9 L1567.2 519.1 L1577.0 519.1 L1586.7 528.8 L1595.1 505.2 L1606.2 499.6 L1614.6 510.7 L1634.1 485.6"/>
</g>
<!-- reference dashed lines -->
<g stroke="#000" stroke-width="4" fill="none" stroke-dasharray="20.7 22.7">
<line x1="210.6" y1="533.9" x2="1824.4" y2="533.9"/>
<line x1="210.6" y1="1189.8" x2="1824.4" y2="1189.8"/>
</g>
<!-- frame -->
<g stroke="#cccccc" fill="none">
<line x1="208.9" y1="52.9" x2="1826" y2="52.9" stroke-width="3.6"/>
<line x1="208.9" y1="1510.3" x2="1826" y2="1510.3" stroke-width="2.9"/>
<line x1="210.55" y1="51" x2="210.55" y2="1512" stroke-width="2.9"/>
<line x1="1824.4" y1="51" x2="1824.4" y2="1512" stroke-width="2.9"/>
</g>
<!-- y tick labels -->
<g class="tk" text-anchor="end">
<text x="196" y="65.9">5.5</text>
<text x="196" y="430.25">5.0</text>
<text x="196" y="794.6">4.5</text>
<text x="196" y="1158.95">4.0</text>
<text x="196" y="1523.3">3.5</text>
</g>
<!-- x tick labels -->
<g class="tk" text-anchor="middle">
<text x="210.5" y="1556.8">0</text>
<text x="400.4" y="1556.8">20</text>
<text x="590.2" y="1556.8">40</text>
<text x="780.1" y="1556.8">60</text>
<text x="970.0" y="1556.8">80</text>
<text x="1159.8" y="1556.8">100</text>
<text x="1349.7" y="1556.8">120</text>
<text x="1539.6" y="1556.8">140</text>
<text x="1729.5" y="1556.8">160</text>
</g>
<!-- legend handles -->
<g fill="none" stroke-width="4.6">
<line x1="255.5" y1="1062.3" x2="357.6" y2="1062.3" stroke="#0000ff" stroke-dasharray="36.6 3.1"/>
<line x1="255.5" y1="1137" x2="357.6" y2="1137" stroke="#008000" stroke-dasharray="4 3.26"/>
<line x1="255.5" y1="1211.6" x2="357.6" y2="1211.6" stroke="#ff0000" stroke-dasharray="11.1 3.1 4.0 3.5"/>
<line x1="255.5" y1="1287" x2="357.6" y2="1287" stroke="#00bfbf" stroke-dasharray="18.6 3.3 7.6 3.1"/>
<line x1="255.5" y1="1362" x2="357.6" y2="1362" stroke="#bf00bf" stroke-dasharray="11.2 3.45"/>
<line x1="256" y1="1437" x2="358" y2="1437" stroke="#bfbf00" stroke-linecap="round"/>
</g>
<!-- arrows -->
<g fill="#000" stroke="#000" stroke-width="1.2" stroke-linejoin="round">
<polygon points="1258.5,548.5 1290.0,583.3 1287.2,586.7 1346.2,704.7 1334.4,710.3 1273.1,593.4 1268.1,594.0"/>
<polygon points="1258.6,1198 1304.1,1203.4 1303.6,1208.8 1340,1223.8 1335.7,1235 1297.7,1222.2 1295.6,1225.9"/>
</g>

<g fill="#262626">
<text x="400.50" y="1078.90" textLength="40.02" lengthAdjust="spacingAndGlyphs" style='font-family:"Liberation Serif","DejaVu Serif",serif;font-size:52.20px;font-style:italic'>H</text>
<text x="439.99" y="1086.80" textLength="18.32" lengthAdjust="spacingAndGlyphs" style='font-family:"Liberation Serif","DejaVu Serif",serif;font-size:34.00px;font-style:italic'>d</text>
<text x="469.38" y="1081.30" textLength="40.96" lengthAdjust="spacingAndGlyphs" style='font-family:"Liberation Serif","DejaVu Serif",serif;font-size:44.80px'>=</text>
<text x="518.98" y="1078.90" textLength="92.75" lengthAdjust="spacingAndGlyphs" style='font-family:"Liberation Serif","DejaVu Serif",serif;font-size:50.50px'>33%</text>
<text x="614.21" y="1078.90" textLength="11.75" lengthAdjust="spacingAndGlyphs" style='font-family:"Liberation Serif","DejaVu Serif",serif;font-size:50.00px'>,</text>
<text x="645.16" y="1078.90" textLength="32.50" lengthAdjust="spacingAndGlyphs" style='font-family:"Liberation Serif","DejaVu Serif",serif;font-size:51.80px'>Λ</text>
<text x="686.80" y="1081.30" textLength="40.72" lengthAdjust="spacingAndGlyphs" style='font-family:"Liberation Serif","DejaVu Serif",serif;font-size:44.80px'>=</text>
<text x="734.73" y="1078.90" textLength="25.99" lengthAdjust="spacingAndGlyphs" style='font-family:"Liberation Serif","DejaVu Serif",serif;font-size:49.00px'>1</text>
<text x="400.50" y="1153.90" textLength="40.02" lengthAdjust="spacingAndGlyphs" style='font-family:"Liberation Serif","DejaVu Serif",serif;font-size:52.20px;font-style:italic'>H</text>
<text x="439.99" y="1161.80" textLength="18.32" lengthAdjust="spacingAndGlyphs" style='font-family:"Liberation Serif","DejaVu Serif",serif;font-size:34.00px;font-style:italic'>d</text>
<text x="469.38" y="1156.30" textLength="40.96" lengthAdjust="spacingAndGlyphs" style='font-family:"Liberation Serif","DejaVu Serif",serif;font-size:44.80px'>=</text>
<text x="518.98" y="1153.90" textLength="92.75" lengthAdjust="spacingAndGlyphs" style='font-family:"Liberation Serif","DejaVu Serif",serif;font-size:50.50px'>33%</text>
<text x="614.21" y="1153.90" textLength="11.75" lengthAdjust="spacingAndGlyphs" style='font-family:"Liberation Serif","DejaVu Serif",serif;font-size:50.00px'>,</text>
<text x="645.16" y="1153.90" textLength="32.50" lengthAdjust="spacingAndGlyphs" style='font-family:"Liberation Serif","DejaVu Serif",serif;font-size:51.80px'>Λ</text>
<text x="686.80" y="1156.30" textLength="40.72" lengthAdjust="spacingAndGlyphs" style='font-family:"Liberation Serif","DejaVu Serif",serif;font-size:44.80px'>=</text>
<text x="736.49" y="1153.90" textLength="23.33" lengthAdjust="spacingAndGlyphs" style='font-family:"Liberation Serif","DejaVu Serif",serif;font-size:50.00px'>5</text>
<text x="400.50" y="1228.90" textLength="40.02" lengthAdjust="spacingAndGlyphs" style='font-family:"Liberation Serif","DejaVu Serif",serif;font-size:52.20px;font-style:italic'>H</text>
<text x="439.99" y="1236.80" textLength="18.32" lengthAdjust="spacingAndGlyphs" style='font-family:"Liberation Serif","DejaVu Serif",serif;font-size:34.00px;font-style:italic'>d</text>
<text x="469.38" y="1231.30" textLength="40.96" lengthAdjust="spacingAndGlyphs" style='font-family:"Liberation Serif","DejaVu Serif",serif;font-size:44.80px'>=</text>
<text x="519.18" y="1228.90" textLength="92.54" lengthAdjust="spacingAndGlyphs" style='font-family:"Liberation Serif","DejaVu Serif",serif;font-size:50.50px'>28%</text>
<text x="614.21" y="1228.90" textLength="11.75" lengthAdjust="spacingAndGlyphs" style='font-family:"Liberation Serif","DejaVu Serif",serif;font-size:50.00px'>,</text>
<text x="645.16" y="1228.90" textLength="32.50" lengthAdjust="spacingAndGlyphs" style='font-family:"Liberation Serif","DejaVu Serif",serif;font-size:51.80px'>Λ</text>
<text x="686.80" y="1231.30" textLength="40.72" lengthAdjust="spacingAndGlyphs" style='font-family:"Liberation Serif","DejaVu Serif",serif;font-size:44.80px'>=</text>
<text x="734.73" y="1228.90" textLength="25.99" lengthAdjust="spacingAndGlyphs" style='font-family:"Liberation Serif","DejaVu Serif",serif;font-size:49.00px'>1</text>
<text x="400.50" y="1303.90" textLength="40.02" lengthAdjust="spacingAndGlyphs" style='font-family:"Liberation Serif","DejaVu Serif",serif;font-size:52.20px;font-style:italic'>H</text>
<text x="439.99" y="1311.80" textLength="18.32" lengthAdjust="spacingAndGlyphs" style='font-family:"Liberation Serif","DejaVu Serif",serif;font-size:34.00px;font-style:italic'>d</text>
<text x="469.38" y="1306.30" textLength="40.96" lengthAdjust="spacingAndGlyphs" style='font-family:"Liberation Serif","DejaVu Serif",serif;font-size:44.80px'>=</text>
<text x="519.18" y="1303.90" textLength="92.54" lengthAdjust="spacingAndGlyphs" style='font-family:"Liberation Serif","DejaVu Serif",serif;font-size:50.50px'>28%</text>
<text x="614.21" y="1303.90" textLength="11.75" lengthAdjust="spacingAndGlyphs" style='font-family:"Liberation Serif","DejaVu Serif",serif;font-size:50.00px'>,</text>
<text x="645.16" y="1303.90" textLength="32.50" lengthAdjust="spacingAndGlyphs" style='font-family:"Liberation Serif","DejaVu Serif",serif;font-size:51.80px'>Λ</text>
<text x="686.80" y="1306.30" textLength="40.72" lengthAdjust="spacingAndGlyphs" style='font-family:"Liberation Serif","DejaVu Serif",serif;font-size:44.80px'>=</text>
<text x="736.49" y="1303.90" textLength="23.33" lengthAdjust="spacingAndGlyphs" style='font-family:"Liberation Serif","DejaVu Serif",serif;font-size:50.00px'>5</text>
<text x="400.50" y="1378.90" textLength="40.02" lengthAdjust="spacingAndGlyphs" style='font-family:"Liberation Serif","DejaVu Serif",serif;font-size:52.20px;font-style:italic'>H</text>
<text x="439.99" y="1386.80" textLength="18.32" lengthAdjust="spacingAndGlyphs" style='font-family:"Liberation Serif","DejaVu Serif",serif;font-size:34.00px;font-style:italic'>d</text>
<text x="469.38" y="1381.30" textLength="40.96" lengthAdjust="spacingAndGlyphs" style='font-family:"Liberation Serif","DejaVu Serif",serif;font-size:44.80px'>=</text>
<text x="519.18" y="1378.90" textLength="92.54" lengthAdjust="spacingAndGlyphs" style='font-family:"Liberation Serif","DejaVu Serif",serif;font-size:50.50px'>20%</text>
<text x="614.21" y="1378.90" textLength="11.75" lengthAdjust="spacingAndGlyphs" style='font-family:"Liberation Serif","DejaVu Serif",serif;font-size:50.00px'>,</text>
<text x="645.16" y="1378.90" textLength="32.50" lengthAdjust="spacingAndGlyphs" style='font-family:"Liberation Serif","DejaVu Serif",serif;font-size:51.80px'>Λ</text>
<text x="686.80" y="1381.30" textLength="40.72" lengthAdjust="spacingAndGlyphs" style='font-family:"Liberation Serif","DejaVu Serif",serif;font-size:44.80px'>=</text>
<text x="734.73" y="1378.90" textLength="25.99" lengthAdjust="spacingAndGlyphs" style='font-family:"Liberation Serif","DejaVu Serif",serif;font-size:49.00px'>1</text>
<text x="400.50" y="1453.90" textLength="40.02" lengthAdjust="spacingAndGlyphs" style='font-family:"Liberation Serif","DejaVu Serif",serif;font-size:52.20px;font-style:italic'>H</text>
<text x="439.99" y="1461.80" textLength="18.32" lengthAdjust="spacingAndGlyphs" style='font-family:"Liberation Serif","DejaVu Serif",serif;font-size:34.00px;font-style:italic'>d</text>
<text x="469.38" y="1456.30" textLength="40.96" lengthAdjust="spacingAndGlyphs" style='font-family:"Liberation Serif","DejaVu Serif",serif;font-size:44.80px'>=</text>
<text x="519.18" y="1453.90" textLength="92.54" lengthAdjust="spacingAndGlyphs" style='font-family:"Liberation Serif","DejaVu Serif",serif;font-size:50.50px'>20%</text>
<text x="614.21" y="1453.90" textLength="11.75" lengthAdjust="spacingAndGlyphs" style='font-family:"Liberation Serif","DejaVu Serif",serif;font-size:50.00px'>,</text>
<text x="645.16" y="1453.90" textLength="32.50" lengthAdjust="spacingAndGlyphs" style='font-family:"Liberation Serif","DejaVu Serif",serif;font-size:51.80px'>Λ</text>
<text x="686.80" y="1456.30" textLength="40.72" lengthAdjust="spacingAndGlyphs" style='font-family:"Liberation Serif","DejaVu Serif",serif;font-size:44.80px'>=</text>
<text x="736.49" y="1453.90" textLength="23.33" lengthAdjust="spacingAndGlyphs" style='font-family:"Liberation Serif","DejaVu Serif",serif;font-size:50.00px'>5</text>
<text x="1352.80" y="760.50" textLength="33.80" lengthAdjust="spacingAndGlyphs" style='font-family:"Liberation Serif","DejaVu Serif",serif;font-size:44.06px;font-style:italic'>H</text>
<text x="1386.16" y="767.17" textLength="15.46" lengthAdjust="spacingAndGlyphs" style='font-family:"Liberation Serif","DejaVu Serif",serif;font-size:28.70px;font-style:italic'>d</text>
<text x="1412.30" y="762.53" textLength="32.84" lengthAdjust="spacingAndGlyphs" style='font-family:"Liberation Serif","DejaVu Serif",serif;font-size:37.81px'>=</text>
<text x="1452.69" y="760.50" textLength="79.80" lengthAdjust="spacingAndGlyphs" style='font-family:"Liberation Serif","DejaVu Serif",serif;font-size:42.62px'>20%</text>
<text x="1534.44" y="760.50" textLength="10.24" lengthAdjust="spacingAndGlyphs" style='font-family:"Liberation Serif","DejaVu Serif",serif;font-size:42.20px'>,</text>
<text x="1560.67" y="760.50" textLength="79.06" lengthAdjust="spacingAndGlyphs" style='font-family:"DejaVu Sans","Liberation Sans",sans-serif;font-size:41.60px'>CFL</text>
<text x="1654.00" y="760.50" textLength="35.60" lengthAdjust="spacingAndGlyphs" style='font-family:"DejaVu Sans","Liberation Sans",sans-serif;font-size:41.60px'>=</text>
<text x="1703.97" y="760.50" textLength="21.19" lengthAdjust="spacingAndGlyphs" style='font-family:"Liberation Serif","DejaVu Serif",serif;font-size:42.20px'>4</text>
<text x="1727.21" y="760.50" textLength="8.67" lengthAdjust="spacingAndGlyphs" style='font-family:"Liberation Serif","DejaVu Serif",serif;font-size:42.20px'>.</text>
<text x="1745.06" y="760.50" textLength="43.01" lengthAdjust="spacingAndGlyphs" style='font-family:"Liberation Serif","DejaVu Serif",serif;font-size:42.20px'>84</text>
<text x="1352.80" y="1270.50" textLength="33.80" lengthAdjust="spacingAndGlyphs" style='font-family:"Liberation Serif","DejaVu Serif",serif;font-size:44.06px;font-style:italic'>H</text>
<text x="1386.16" y="1277.17" textLength="15.46" lengthAdjust="spacingAndGlyphs" style='font-family:"Liberation Serif","DejaVu Serif",serif;font-size:28.70px;font-style:italic'>d</text>
<text x="1412.30" y="1272.53" textLength="32.84" lengthAdjust="spacingAndGlyphs" style='font-family:"Liberation Serif","DejaVu Serif",serif;font-size:37.81px'>=</text>
<text x="1452.51" y="1270.50" textLength="79.98" lengthAdjust="spacingAndGlyphs" style='font-family:"Liberation Serif","DejaVu Serif",serif;font-size:42.62px'>30%</text>
<text x="1534.44" y="1270.50" textLength="10.24" lengthAdjust="spacingAndGlyphs" style='font-family:"Liberation Serif","DejaVu Serif",serif;font-size:42.20px'>,</text>
<text x="1560.67" y="1270.50" textLength="79.06" lengthAdjust="spacingAndGlyphs" style='font-family:"DejaVu Sans","Liberation Sans",sans-serif;font-size:41.60px'>CFL</text>
<text x="1654.00" y="1270.50" textLength="35.60" lengthAdjust="spacingAndGlyphs" style='font-family:"DejaVu Sans","Liberation Sans",sans-serif;font-size:41.60px'>=</text>
<text x="1702.52" y="1270.50" textLength="23.84" lengthAdjust="spacingAndGlyphs" style='font-family:"Liberation Serif","DejaVu Serif",serif;font-size:42.20px'>3</text>
<text x="1727.21" y="1270.50" textLength="8.67" lengthAdjust="spacingAndGlyphs" style='font-family:"Liberation Serif","DejaVu Serif",serif;font-size:42.20px'>.</text>
<text x="1745.32" y="1270.50" textLength="42.75" lengthAdjust="spacingAndGlyphs" style='font-family:"Liberation Serif","DejaVu Serif",serif;font-size:42.20px'>94</text>
<text x="925.83" y="1640.50" textLength="23.85" lengthAdjust="spacingAndGlyphs" style='font-family:"Liberation Serif","DejaVu Serif",serif;font-size:81.00px;font-style:italic'>t</text>
<text x="980.53" y="1646.40" textLength="16.45" lengthAdjust="spacingAndGlyphs" style='font-family:"Liberation Serif","DejaVu Serif",serif;font-size:85.70px'>[</text>
<text x="995.23" y="1640.50" textLength="97.53" lengthAdjust="spacingAndGlyphs" style='font-family:"Liberation Serif","DejaVu Serif",serif;font-size:69.40px;font-style:italic'>ms</text>
<text x="1093.18" y="1646.40" textLength="15.85" lengthAdjust="spacingAndGlyphs" style='font-family:"Liberation Serif","DejaVu Serif",serif;font-size:85.70px'>]</text>
<text transform="translate(88.00,0) rotate(-90)" x="-929.27" y="0" textLength="132.66" lengthAdjust="spacingAndGlyphs" style='font-family:"DejaVu Sans","Liberation Sans",sans-serif;font-size:72.50px'>CFL</text>
<text transform="translate(94.20,0) rotate(-90)" x="-767.67" y="0" textLength="13.31" lengthAdjust="spacingAndGlyphs" style='font-family:"Liberation Serif","DejaVu Serif",serif;font-size:85.10px'>[</text>
<text transform="translate(88.50,0) rotate(-90)" x="-751.42" y="0" textLength="42.42" lengthAdjust="spacingAndGlyphs" style='font-family:"Liberation Serif","DejaVu Serif",serif;font-size:70.90px;font-style:italic'>μ</text>
<text transform="translate(88.60,0) rotate(-90)" x="-711.32" y="0" textLength="66.27" lengthAdjust="spacingAndGlyphs" style='font-family:"Liberation Serif","DejaVu Serif",serif;font-size:69.20px;font-style:italic'>m</text>
<text transform="translate(94.20,0) rotate(-90)" x="-647.19" y="0" textLength="15.55" lengthAdjust="spacingAndGlyphs" style='font-family:"Liberation Serif","DejaVu Serif",serif;font-size:85.10px'>]</text>
</g>
</svg>
</body></html>
